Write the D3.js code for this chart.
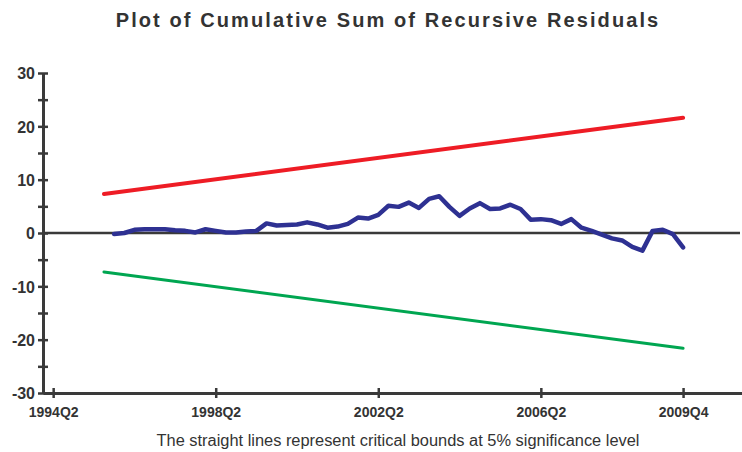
<!DOCTYPE html>
<html>
<head>
<meta charset="utf-8">
<script src="https://cdn.jsdelivr.net/npm/d3@7"></script>
<style>
  body { margin: 0; background: #fff; }
  svg { display: block; }
</style>
</head>
<body>
<script>
// quarters as "YYYYQn"
var cusumStart = "1995Q4";
var cusum = [-0.2, 0.0, 0.6, 0.7, 0.7, 0.7, 0.5, 0.4, 0.1, 0.7,
             0.4, 0.1, 0.1, 0.3, 0.4, 1.8, 1.4, 1.5, 1.6, 2.0,
             1.6, 1.0, 1.2, 1.7, 2.9, 2.7, 3.4, 5.1, 4.9, 5.7,
             4.7, 6.4, 6.9, 4.9, 3.2, 4.6, 5.6, 4.5, 4.6, 5.3,
             4.5, 2.5, 2.6, 2.4, 1.7, 2.6, 1.0, 0.4, -0.3, -1.0,
             -1.4, -2.6, -3.3, 0.4, 0.6, -0.2, -2.7];
var boundQuarters = ["1995Q3", "2009Q4"];
var upperBound = [7.3, 21.6];
var lowerBound = [-7.3, -21.6];
var xTickLabels = ["1994Q2", "1998Q2", "2002Q2", "2006Q2", "2009Q4"];
var yMajor = [-30, -20, -10, 0, 10, 20, 30];
var yMinor = [-25, -15, -5, 5, 15, 25];

var w = 742, h = 452;

function qnum(s) { //"1998Q2" -> 1998.25
    return +s.slice(0, 4) + (+s.slice(5) - 1) / 4;
}

var startQ = qnum(cusumStart);
var cusumData = cusum.map(function(v, i) { return { t: startQ + i / 4, v: v }; });
var upperData = boundQuarters.map(function(q, i) { return { t: qnum(q), v: upperBound[i] }; });
var lowerData = boundQuarters.map(function(q, i) { return { t: qnum(q), v: lowerBound[i] }; });

var x = d3.scaleLinear().domain([1994.0, 2011.2]).range([43, 742]);
var y = d3.scaleLinear().domain([-30, 30]).range([393, 73]);

var svg = d3.select("body").append("svg")
            .attr("width", w)
            .attr("height", h);

var axisColor = "#3a3a3a";

//title
svg.append("text")
    .attr("x", 388)
    .attr("y", 27)
    .attr("text-anchor", "middle")
    .attr("font-family", "Liberation Sans, Arial, sans-serif")
    .attr("font-weight", "bold")
    .attr("font-size", 20)
    .attr("letter-spacing", 2.1)
    .attr("fill", "#333")
    .text("Plot of Cumulative Sum of Recursive Residuals");

//zero line
svg.append("line")
    .attr("x1", x(1994.0)).attr("x2", 740)
    .attr("y1", y(0)).attr("y2", y(0))
    .attr("stroke", axisColor)
    .attr("stroke-width", 2.5);

//y axis
var yAxis = d3.axisLeft(y)
    .tickValues(yMajor.concat(yMinor))
    .tickSizeInner(5)
    .tickSizeOuter(0)
    .tickFormat(function(d) { return yMajor.indexOf(d) >= 0 ? d : ""; });

var gy = svg.append("g")
    .attr("transform", "translate(" + x(1994.0) + ",0)")
    .call(yAxis);
gy.select(".domain").attr("stroke", axisColor).attr("stroke-width", 3);
gy.selectAll(".tick line")
    .attr("x1", -5).attr("x2", 5)
    .attr("stroke", axisColor).attr("stroke-width", 2.5);
gy.selectAll(".tick text")
    .attr("x", -8)
    .attr("dy", "0.36em")
    .attr("font-family", "Liberation Sans, Arial, sans-serif")
    .attr("font-weight", "bold")
    .attr("font-size", 16)
    .attr("fill", "#333");

//x axis
var xAxis = d3.axisBottom(x)
    .tickValues(xTickLabels.map(qnum))
    .tickSizeOuter(0)
    .tickFormat(function(d, i) { return xTickLabels[i]; });

var gx = svg.append("g")
    .attr("transform", "translate(0," + y(-30) + ")")
    .call(xAxis);
gx.select(".domain").attr("stroke", axisColor).attr("stroke-width", 3);
gx.selectAll(".tick line")
    .attr("y1", -5).attr("y2", 5)
    .attr("stroke", axisColor).attr("stroke-width", 2.5);
gx.selectAll(".tick text")
    .attr("y", 14)
    .attr("dy", "0.71em")
    .attr("font-family", "Liberation Sans, Arial, sans-serif")
    .attr("font-weight", "bold")
    .attr("font-size", 14)
    .attr("fill", "#333");

//lines
var line = d3.line()
    .x(function(d) { return x(d.t); })
    .y(function(d) { return y(d.v); });

svg.append("path")
    .datum(upperData)
    .attr("d", line)
    .attr("fill", "none")
    .attr("stroke", "#ee1c25")
    .attr("stroke-width", 4)
    .attr("stroke-linecap", "round");

svg.append("path")
    .datum(lowerData)
    .attr("d", line)
    .attr("fill", "none")
    .attr("stroke", "#00a651")
    .attr("stroke-width", 3)
    .attr("stroke-linecap", "round");

svg.append("path")
    .datum(cusumData)
    .attr("d", line)
    .attr("fill", "none")
    .attr("stroke", "#2e3192")
    .attr("stroke-width", 4.5)
    .attr("stroke-linejoin", "round")
    .attr("stroke-linecap", "round");

//footnote
svg.append("text")
    .attr("x", 398)
    .attr("y", 446)
    .attr("text-anchor", "middle")
    .attr("font-family", "Liberation Sans Narrow, Arial Narrow, sans-serif")
    .attr("font-size", 16)
    .attr("textLength", 483)
    .attr("lengthAdjust", "spacingAndGlyphs")
    .attr("fill", "#333")
    .text("The straight lines represent critical bounds at 5% significance level");
</script>
</body>
</html>
